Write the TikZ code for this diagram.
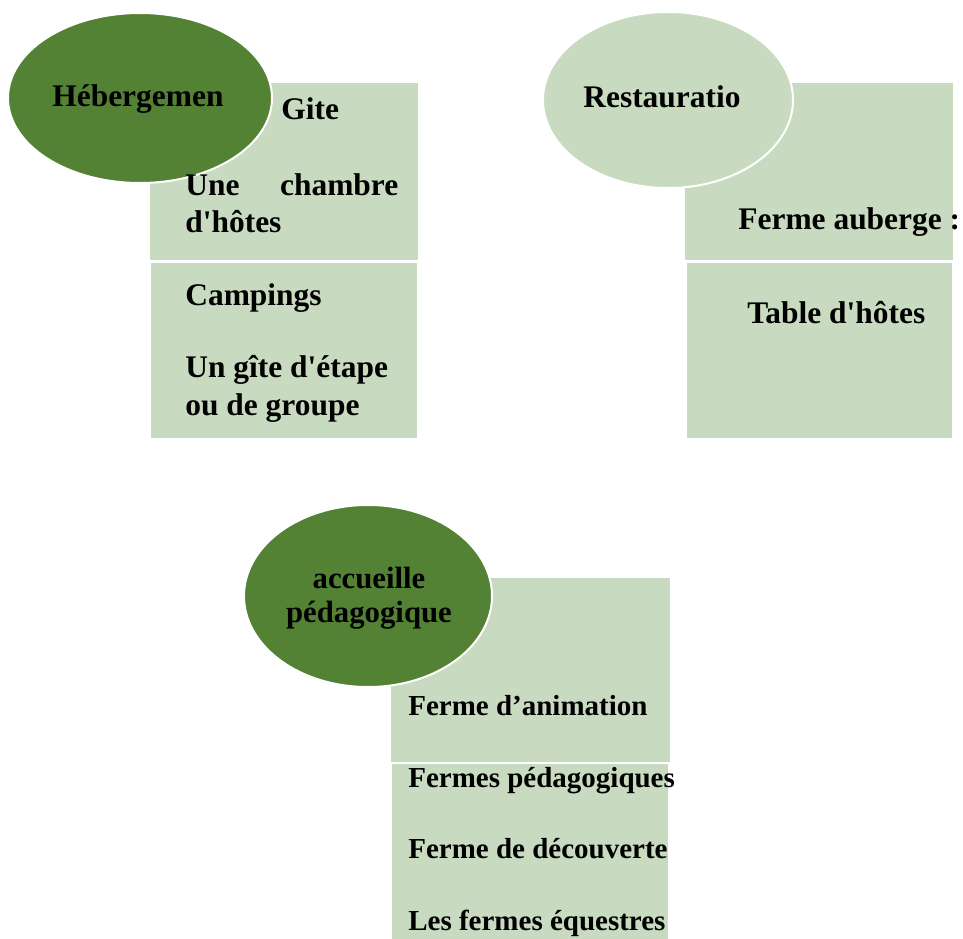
\documentclass[tikz,border=0pt]{standalone}
\usepackage{fontspec}
\setmainfont{Liberation Serif}
\usepackage{xcolor}
\definecolor{darkgreen}{RGB}{84,130,53}
\definecolor{palegreen}{RGB}{200,218,192}

\begin{document}
\begin{tikzpicture}[x=0.02cm, y=-0.02cm,
    itembox/.style={fill=palegreen},
    bubble/.style={draw=white, line width=0.04cm},
    txt/.style={inner sep=0pt, font=\bfseries\fontsize{17.9}{21.2}\selectfont},
    smalltxt/.style={inner sep=0pt, font=\bfseries\fontsize{16.5}{19.5}\selectfont}]

    \useasboundingbox (0,0) rectangle (963,939);

    % hebergement
    \fill[itembox] (150,83) rectangle (418,260);
    \fill[itembox] (151,263) rectangle (417,438);
    \draw[bubble, fill=darkgreen] (140,98) ellipse (132 and 85);
    \node[txt, anchor=base west] (heb) at (52,107) {Hébergemen};
    \node[txt, anchor=base west] (gite) at (281,120) {Gite};
    \node[txt, anchor=base west, text width=4.26cm, align=left] (chambre) at (185,195) {Une\hfill chambre\\d\textquotesingle hôtes};
    \node[txt, anchor=base west] (camping) at (185,305) {Campings};
    \node[txt, anchor=base west, align=left] (etape) at (185,415) {Un gîte d\textquotesingle étape\\ou de groupe};

    % restauration
    \fill[itembox] (685,83) rectangle (953,260);
    \fill[itembox] (687,263) rectangle (952,438);
    \draw[bubble, fill=palegreen] (668,100) ellipse (125 and 88);
    \node[txt, anchor=base west] (resto) at (583,108) {Restauratio};
    \node[txt, anchor=base west] (auberge) at (738,230) {Ferme auberge :};
    \node[txt, anchor=base west] (table) at (747,323) {Table d\textquotesingle hôtes};

    % accueil
    \fill[itembox] (391,578) rectangle (670,762);
    \fill[itembox] (392,764) rectangle (668,939);
    \draw[bubble, fill=darkgreen] (368,596) ellipse (124 and 91);
    \node[txt, anchor=base, align=center, font=\bfseries\fontsize{17.5}{18.8}\selectfont] (accueil) at (369,622) {accueille\\pédagogique};
    \node[smalltxt, anchor=base west] (anim) at (408,715) {Ferme d’animation};
    \node[smalltxt, anchor=base west] (peda) at (408,787) {Fermes pédagogiques};
    \node[smalltxt, anchor=base west] (decouv) at (408,858) {Ferme de découverte};
    \node[smalltxt, anchor=base west] (equestre) at (408,930) {Les fermes équestres};

\end{tikzpicture}
\end{document}
